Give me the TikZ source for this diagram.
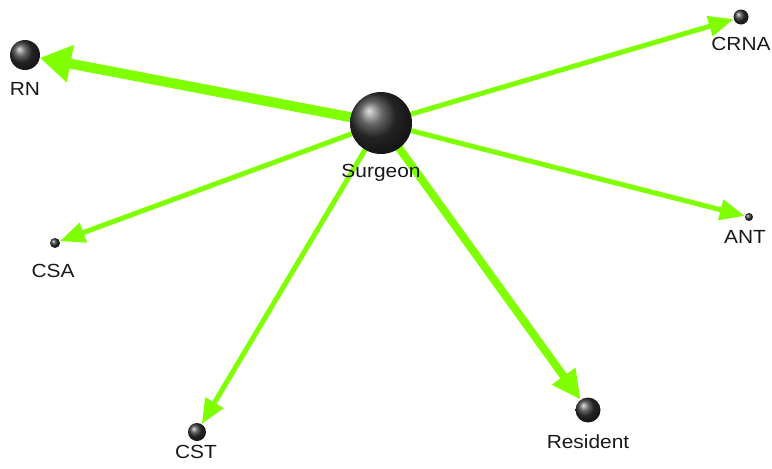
\documentclass[tikz,border=0pt]{standalone}
\usepackage{fontspec}
\setmainfont[FakeStretch=1.1]{Liberation Sans}
\usetikzlibrary{arrows.meta,backgrounds}
\definecolor{edgegreen}{RGB}{128,255,0}
\definecolor{labelgray}{RGB}{25,25,25}
\tikzset{
  ball/.style={circle, inner sep=0pt, shading=ball, ball color=black!80},
  lbl/.style={anchor=base, inner sep=0pt, text=labelgray, font=\fontsize{19}{21}\selectfont},
  edge/.style={draw=edgegreen},
  thickedge/.style={edge, line width=10pt, -{Triangle[length=31pt,width=36pt]}},
  midedge/.style={edge, line width=8pt, -{Triangle[length=29pt,width=27pt]}},
  thinedge/.style={edge, line width=5pt, -{Triangle[length=25pt,width=20pt]}},
}
\begin{document}
\begin{tikzpicture}[x=1pt,y=-1pt]
\useasboundingbox (0,0) rectangle (772,469);
\node[ball, minimum size=62pt] (s) at (381,123) {};
\node[ball, minimum size=30pt] (rn) at (25,55) {};
\node[ball, minimum size=15pt] (crna) at (741,17) {};
\node[ball, minimum size=8pt] (ant) at (749,217) {};
\node[ball, minimum size=10pt] (csa) at (55,243) {};
\node[ball, minimum size=18pt] (cst) at (197,432) {};
\node[ball, minimum size=25pt] (res) at (588,410) {};
\node[lbl] (ls) at (381,177) {Surgeon};
\node[lbl] (lrn) at (25,95) {RN};
\node[lbl] (lcrna) at (741,50) {CRNA};
\node[lbl] (lant) at (745,243) {ANT};
\node[lbl] (lcsa) at (53,277) {CSA};
\node[lbl] (lcst) at (196,458) {CST};
\node[lbl] (lres) at (588,448) {Resident};
\begin{scope}[on background layer]
\draw[thickedge] (s.center) -- (rn);
\draw[midedge] (s.center) -- (res);
\draw[thinedge] (s.center) -- (crna);
\draw[thinedge] (s.center) -- (ant);
\draw[thinedge] (s.center) -- (csa);
\draw[thinedge] (s.center) -- (cst);
\end{scope}
\end{tikzpicture}
\end{document}
